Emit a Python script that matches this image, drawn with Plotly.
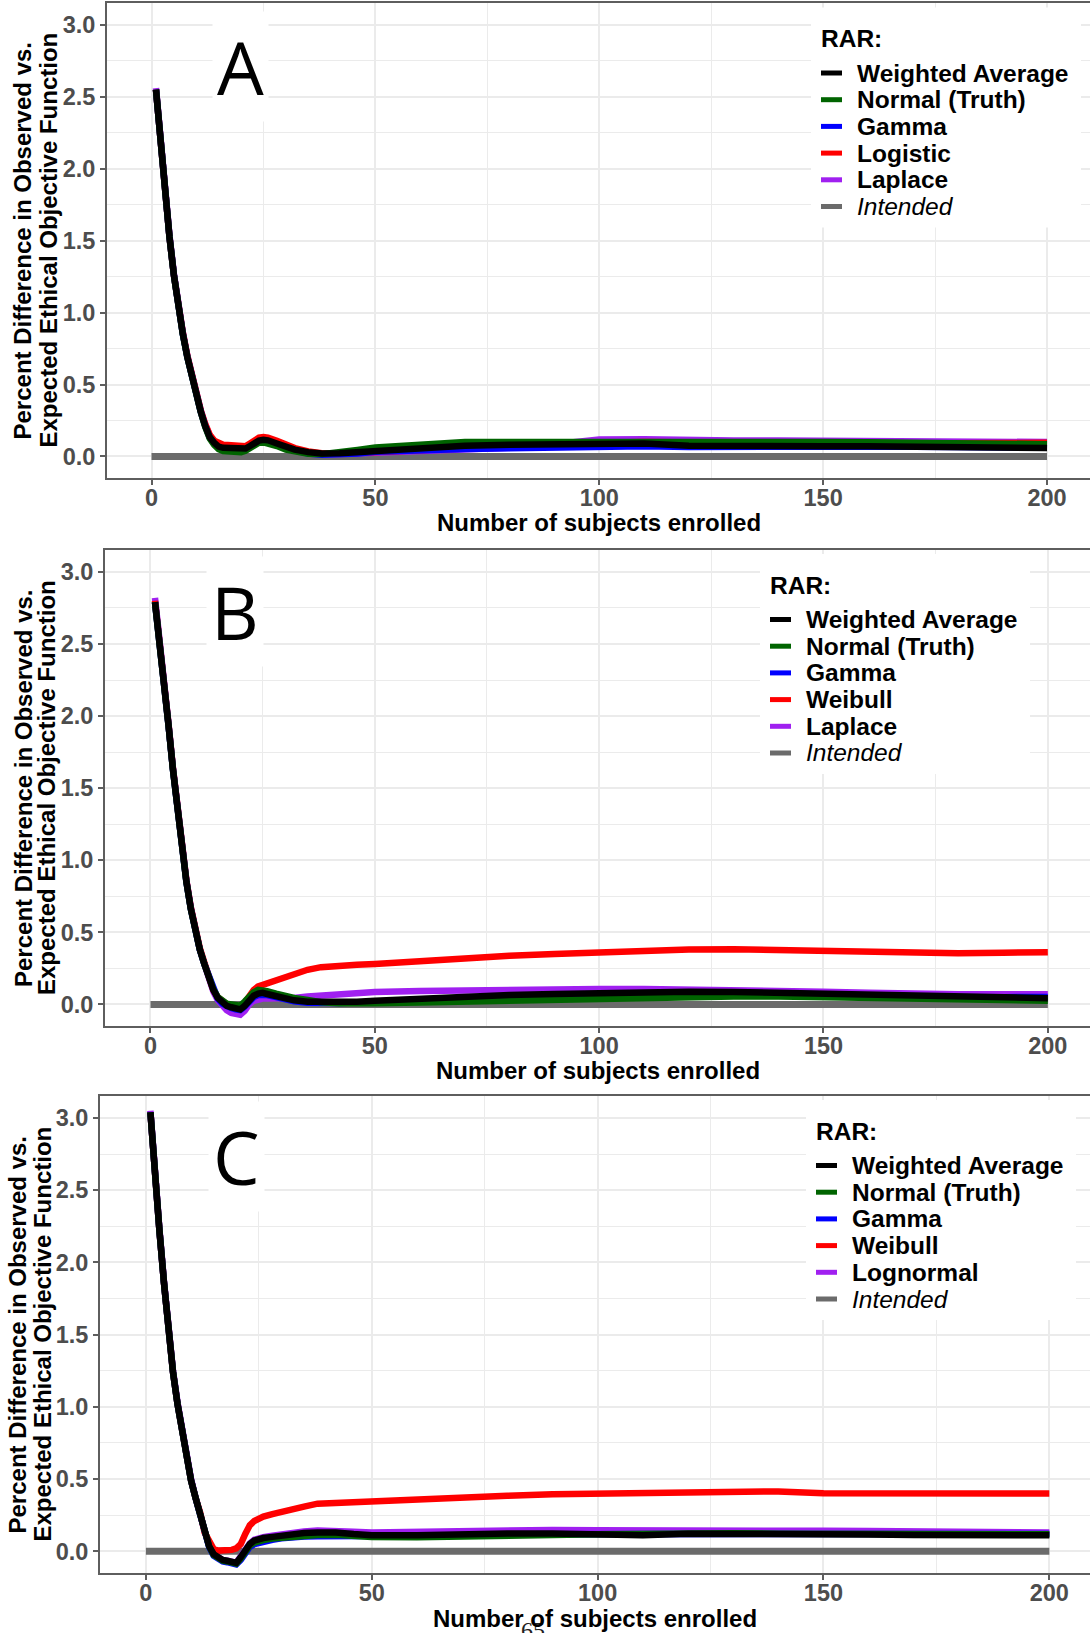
import plotly.graph_objects as go

W, H = 1090, 1633

# Number of subjects enrolled (shared x grid for every curve)
X = [1, 2, 3, 4, 5, 6, 7, 8, 9, 10, 11, 12, 13, 14, 15, 16, 17, 18, 19, 20,
     21, 22, 23, 24, 25, 26, 28, 30, 32, 35, 38, 42, 46, 50,
     60, 70, 80, 90, 100, 110, 120, 130, 140, 150, 160, 170, 180, 190, 200]
INTENDED_X = [0, 200]
INTENDED_Y = [0.0, 0.0]

# ---- Panel A ----
A_WEIGHTED = [2.55, 2.17, 1.85, 1.53, 1.26, 1.02, 0.85, 0.69, 0.55, 0.43,
              0.31, 0.21, 0.135, 0.095, 0.068, 0.06, 0.058, 0.056, 0.052, 0.048,
              0.055, 0.072, 0.095, 0.11, 0.116, 0.112,
              0.09, 0.065, 0.047, 0.03, 0.02, 0.022, 0.03, 0.045,
              0.058, 0.074, 0.082, 0.088, 0.095, 0.09, 0.075, 0.07, 0.07, 0.07,
              0.07, 0.068, 0.066, 0.056, 0.058]
A_NORMAL = [2.55, 2.17, 1.85, 1.53, 1.26, 1.02, 0.85, 0.69, 0.55, 0.43,
            0.31, 0.205, 0.125, 0.08, 0.05, 0.038, 0.035, 0.034, 0.032, 0.03,
            0.04, 0.058, 0.08, 0.095, 0.097, 0.092,
            0.072, 0.048, 0.032, 0.018, 0.016, 0.025, 0.045, 0.062,
            0.085, 0.1, 0.1, 0.1, 0.11, 0.11, 0.1, 0.1, 0.1, 0.1,
            0.098, 0.092, 0.088, 0.085, 0.085]
A_GAMMA = [2.55, 2.17, 1.85, 1.53, 1.26, 1.02, 0.85, 0.69, 0.55, 0.43,
           0.31, 0.21, 0.13, 0.09, 0.06, 0.052, 0.05, 0.048, 0.045, 0.042,
           0.05, 0.068, 0.088, 0.1, 0.105, 0.1,
           0.08, 0.055, 0.038, 0.02, 0.012, 0.012, 0.02, 0.032,
           0.045, 0.052, 0.056, 0.064, 0.07, 0.07, 0.066, 0.068, 0.068, 0.068,
           0.07, 0.068, 0.065, 0.062, 0.06]
A_LOGISTIC = [2.55, 2.17, 1.85, 1.53, 1.26, 1.02, 0.86, 0.70, 0.56, 0.44,
              0.32, 0.225, 0.15, 0.11, 0.09, 0.082, 0.08, 0.078, 0.072, 0.065,
              0.07, 0.09, 0.115, 0.13, 0.135, 0.13,
              0.108, 0.08, 0.058, 0.035, 0.022, 0.02, 0.025, 0.035,
              0.048, 0.062, 0.072, 0.085, 0.095, 0.1, 0.095, 0.09, 0.09, 0.09,
              0.09, 0.09, 0.09, 0.093, 0.095]
A_LAPLACE = [2.56, 2.18, 1.86, 1.54, 1.27, 1.03, 0.86, 0.70, 0.56, 0.44,
             0.32, 0.22, 0.145, 0.105, 0.08, 0.072, 0.07, 0.066, 0.06, 0.055,
             0.062, 0.08, 0.105, 0.118, 0.122, 0.118,
             0.095, 0.068, 0.048, 0.028, 0.016, 0.016, 0.02, 0.026,
             0.036, 0.048, 0.06, 0.085, 0.118, 0.12, 0.112, 0.11, 0.11, 0.11,
             0.1, 0.106, 0.11, 0.1, 0.1]

# ---- Panel B ----
B_WEIGHTED = [2.79, 2.53, 2.24, 1.94, 1.63, 1.36, 1.08, 0.85, 0.66, 0.50,
              0.38, 0.28, 0.19, 0.10, 0.045, 0.01, -0.01, -0.02, -0.03, -0.035,
              -0.01, 0.03, 0.06, 0.075, 0.08, 0.072,
              0.055, 0.04, 0.028, 0.018, 0.015, 0.015, 0.018, 0.025,
              0.042, 0.055, 0.065, 0.072, 0.08, 0.085, 0.088, 0.086, 0.08, 0.072,
              0.062, 0.052, 0.048, 0.045, 0.043]
B_NORMAL = [2.79, 2.53, 2.24, 1.94, 1.63, 1.36, 1.08, 0.85, 0.66, 0.50,
            0.38, 0.28, 0.19, 0.105, 0.05, 0.02, 0.005, 0.0, -0.005, -0.01,
            0.02, 0.06, 0.085, 0.1, 0.1, 0.092,
            0.075, 0.058, 0.045, 0.03, 0.015, 0.008, 0.006, 0.007,
            0.013, 0.02, 0.028, 0.036, 0.044, 0.05, 0.054, 0.055, 0.054, 0.05,
            0.042, 0.035, 0.03, 0.027, 0.026]
B_GAMMA = [2.79, 2.53, 2.24, 1.94, 1.63, 1.36, 1.08, 0.85, 0.66, 0.50,
           0.38, 0.28, 0.19, 0.10, 0.04, 0.005, -0.015, -0.025, -0.035, -0.04,
           -0.015, 0.025, 0.05, 0.065, 0.07, 0.065,
           0.05, 0.035, 0.022, 0.012, 0.008, 0.01, 0.013, 0.018,
           0.03, 0.042, 0.052, 0.06, 0.066, 0.072, 0.078, 0.08, 0.076, 0.068,
           0.06, 0.055, 0.05, 0.05, 0.052]
B_WEIBULL = [2.80, 2.54, 2.25, 1.95, 1.64, 1.37, 1.09, 0.86, 0.67, 0.51,
             0.39, 0.29, 0.19, 0.10, 0.05, 0.02, 0.0, -0.01, -0.02, -0.025,
             0.01, 0.06, 0.1, 0.125, 0.135, 0.14,
             0.165, 0.19, 0.21, 0.24, 0.258, 0.272, 0.275, 0.28,
             0.3, 0.322, 0.337, 0.35, 0.363, 0.372, 0.38, 0.382, 0.376, 0.375,
             0.37, 0.362, 0.355, 0.358, 0.362]
B_LAPLACE = [2.82, 2.55, 2.26, 1.95, 1.64, 1.37, 1.09, 0.86, 0.67, 0.51,
             0.38, 0.28, 0.18, 0.09, 0.03, -0.01, -0.04, -0.06, -0.07, -0.072,
             -0.045, 0.0, 0.025, 0.035, 0.04, 0.04,
             0.038, 0.038, 0.045, 0.055, 0.062, 0.07, 0.078, 0.085,
             0.092, 0.098, 0.1, 0.104, 0.107, 0.107, 0.105, 0.1, 0.095, 0.088,
             0.08, 0.072, 0.07, 0.07, 0.07]

# ---- Panel C ----
C_WEIGHTED = [3.04, 2.59, 2.22, 1.86, 1.50, 1.24, 1.02, 0.83, 0.65, 0.49,
              0.37, 0.26, 0.12, 0.035, -0.02, -0.045, -0.06, -0.065, -0.075, -0.08,
              -0.04, 0.01, 0.05, 0.075, 0.085, 0.092,
              0.1, 0.11, 0.118, 0.127, 0.13, 0.131, 0.12, 0.112,
              0.112, 0.12, 0.123, 0.123, 0.12, 0.112, 0.122, 0.123, 0.123, 0.118,
              0.116, 0.113, 0.111, 0.111, 0.111]
C_NORMAL = [3.04, 2.59, 2.22, 1.86, 1.50, 1.24, 1.02, 0.83, 0.65, 0.49,
            0.37, 0.26, 0.12, 0.035, -0.025, -0.05, -0.065, -0.07, -0.08, -0.085,
            -0.05, 0.0, 0.04, 0.06, 0.07, 0.078,
            0.088, 0.095, 0.1, 0.11, 0.113, 0.115, 0.108, 0.1,
            0.098, 0.1, 0.108, 0.113, 0.118, 0.122, 0.127, 0.125, 0.122, 0.12,
            0.12, 0.118, 0.118, 0.118, 0.118]
C_GAMMA = [3.04, 2.59, 2.22, 1.86, 1.50, 1.24, 1.02, 0.83, 0.65, 0.49,
           0.37, 0.26, 0.12, 0.03, -0.03, -0.055, -0.07, -0.075, -0.085, -0.09,
           -0.06, -0.01, 0.03, 0.05, 0.06, 0.07,
           0.08, 0.09, 0.097, 0.102, 0.104, 0.104, 0.102, 0.1,
           0.105, 0.11, 0.118, 0.12, 0.12, 0.118, 0.12, 0.122, 0.12, 0.12,
           0.12, 0.118, 0.118, 0.118, 0.12]
C_WEIBULL = [3.04, 2.59, 2.22, 1.86, 1.50, 1.24, 1.02, 0.83, 0.65, 0.49,
             0.37, 0.27, 0.13, 0.06, 0.015, 0.005, 0.005, 0.008, 0.01, 0.02,
             0.05, 0.12, 0.18, 0.21, 0.23, 0.24,
             0.258, 0.27, 0.29, 0.31, 0.33, 0.336, 0.337, 0.338,
             0.36, 0.372, 0.385, 0.395, 0.4, 0.402, 0.41, 0.412, 0.415, 0.402,
             0.4, 0.4, 0.4, 0.4, 0.4]
C_LOGNORMAL = [3.05, 2.60, 2.23, 1.87, 1.51, 1.25, 1.03, 0.84, 0.66, 0.50,
               0.37, 0.26, 0.12, 0.035, -0.02, -0.045, -0.06, -0.065, -0.072, -0.078,
               -0.035, 0.015, 0.055, 0.08, 0.09, 0.098,
               0.108, 0.118, 0.128, 0.138, 0.145, 0.145, 0.135, 0.13,
               0.135, 0.145, 0.15, 0.148, 0.146, 0.147, 0.15, 0.148, 0.145, 0.142,
               0.14, 0.137, 0.134, 0.132, 0.13]

X_TICKS = [0, 50, 100, 150, 200]
X_MINOR = [25, 75, 125, 175]
Y_TICKS = [0.0, 0.5, 1.0, 1.5, 2.0, 2.5, 3.0]
Y_MINOR = [0.25, 0.75, 1.25, 1.75, 2.25, 2.75]

COL = {"black": "#000000", "green": "#006400", "blue": "#0000FF",
       "red": "#FF0000", "purple": "#A020F0", "gray": "#6B6B6B"}

# per-panel layout (pixel geometry of the plotting area)
PANELS = [
    dict(letter="A", left=107, top=3, bottom=478, xr=[-9.94, 209.6],
         series=[("Weighted Average", A_WEIGHTED, "black"),
                 ("Normal (Truth)", A_NORMAL, "green"),
                 ("Gamma", A_GAMMA, "blue"),
                 ("Logistic", A_LOGISTIC, "red"),
                 ("Laplace", A_LAPLACE, "purple")],
         letter_xy=(240, 66), leg=(821, 38.5), ytitle_x=(22, 48),
         xtitle_y=523),
    dict(letter="B", left=105, top=550, bottom=1026, xr=[-10.14, 209.4],
         series=[("Weighted Average", B_WEIGHTED, "black"),
                 ("Normal (Truth)", B_NORMAL, "green"),
                 ("Gamma", B_GAMMA, "blue"),
                 ("Weibull", B_WEIBULL, "red"),
                 ("Laplace", B_LAPLACE, "purple")],
         letter_xy=(235, 612), leg=(770, 585), ytitle_x=(23, 46),
         xtitle_y=1070),
    dict(letter="C", left=100, top=1096, bottom=1573, xr=[-10.16, 209.0],
         series=[("Weighted Average", C_WEIGHTED, "black"),
                 ("Normal (Truth)", C_NORMAL, "green"),
                 ("Gamma", C_GAMMA, "blue"),
                 ("Weibull", C_WEIBULL, "red"),
                 ("Lognormal", C_LOGNORMAL, "purple")],
         letter_xy=(236, 1156), leg=(816, 1131), ytitle_x=(17, 42),
         xtitle_y=1618),
]

FONT = "Liberation Sans"
GRID = "#EBEBEB"
AXIS = "#5E5E5E"


def px(x):
    return x / W


def py(y):
    return 1 - y / H


fig = go.Figure()
shapes, annotations = [], []
layout_axes = {}

# page number printed underneath the bottom axis title
annotations.append(dict(text="65", x=px(533), y=py(1630), xref="paper",
                        yref="paper", showarrow=False, xanchor="center",
                        yanchor="middle",
                        font=dict(family="Liberation Serif", size=24,
                                  color="#222222")))

for i, p in enumerate(PANELS, start=1):
    xa = "x" if i == 1 else f"x{i}"
    ya = "y" if i == 1 else f"y{i}"
    # draw order: reference line first, black average last
    order = [4, 3, 2, 1, 0]
    fig.add_trace(go.Scatter(x=INTENDED_X, y=INTENDED_Y, mode="lines",
                             line=dict(color=COL["gray"], width=7),
                             xaxis=xa, yaxis=ya, showlegend=False))
    for k in order:
        name, vals, c = p["series"][k]
        fig.add_trace(go.Scatter(x=X, y=vals, mode="lines", name=name,
                                 line=dict(color=COL[c], width=6.5),
                                 xaxis=xa, yaxis=ya, showlegend=False))

    xkey = "xaxis" if i == 1 else f"xaxis{i}"
    ykey = "yaxis" if i == 1 else f"yaxis{i}"
    layout_axes[xkey] = dict(
        domain=[px(p["left"]), 1.0], range=p["xr"], anchor=ya,
        tickvals=X_TICKS, ticks="outside", ticklen=5, tickwidth=1.5,
        tickcolor=AXIS, showgrid=True, gridcolor=GRID, gridwidth=1.6,
        minor=dict(tickvals=X_MINOR, showgrid=True, gridcolor=GRID,
                   gridwidth=1.0, ticks=""),
        showline=True, mirror=True, linecolor=AXIS, linewidth=1.8,
        zeroline=False, ticklabelstandoff=-7,
        tickfont=dict(family=FONT, size=23.5, color="#4D4D4D", weight="bold"))
    layout_axes[ykey] = dict(
        domain=[py(p["bottom"]), py(p["top"])], range=[-0.15, 3.152],
        anchor=xa, tickvals=Y_TICKS, tickformat=".1f", ticks="outside",
        ticklen=5, tickwidth=1.5, tickcolor=AXIS, showgrid=True,
        gridcolor=GRID, gridwidth=1.6,
        minor=dict(tickvals=Y_MINOR, showgrid=True, gridcolor=GRID,
                   gridwidth=1.0, ticks=""),
        showline=True, mirror=False, linecolor=AXIS, linewidth=1.8,
        zeroline=False,
        tickfont=dict(family=FONT, size=23.5, color="#4D4D4D", weight="bold"))

    # panel letter
    lx, ly = p["letter_xy"]
    annotations.append(dict(text=p["letter"], x=px(lx), y=py(ly),
                            xref="paper", yref="paper", showarrow=False,
                            xanchor="center", yanchor="middle",
                            bgcolor="white", borderpad=4,
                            font=dict(family="Open Sans", size=74,
                                      color="black")))

    # legend block
    gx, gy = p["leg"]
    shapes.append(dict(type="rect", xref="paper", yref="paper",
                       x0=px(gx - 10), x1=px(gx + 260),
                       y0=py(gy - 31), y1=py(gy + 189),
                       fillcolor="white", line=dict(width=0), layer="above"))
    annotations.append(dict(text="<b>RAR:</b>", x=px(gx - 2), y=py(gy),
                            xref="paper", yref="paper", showarrow=False,
                            xanchor="left", yanchor="middle",
                            font=dict(family=FONT, size=24.5, color="black")))
    entries = [(s[0], s[2]) for s in p["series"]] + [("Intended", "gray")]
    for j, (name, c) in enumerate(entries):
        iy = gy + 34.5 + 26.7 * j
        shapes.append(dict(type="line", xref="paper", yref="paper",
                           x0=px(gx), x1=px(gx + 21), y0=py(iy), y1=py(iy),
                           line=dict(color=COL[c], width=5), layer="above"))
        label = f"<i>{name}</i>" if name == "Intended" else f"<b>{name}</b>"
        annotations.append(dict(text=label, x=px(gx + 34), y=py(iy),
                                xref="paper", yref="paper", showarrow=False,
                                xanchor="left", yanchor="middle",
                                font=dict(family=FONT, size=24.5,
                                          color="black")))

    # axis titles
    cy = (p["top"] + p["bottom"]) / 2
    for line, tx in zip(["Percent Difference in Observed vs.",
                         "Expected Ethical Objective Function"],
                        p["ytitle_x"]):
        annotations.append(dict(text=f"<b>{line}</b>", x=px(tx), y=py(cy),
                                xref="paper", yref="paper", showarrow=False,
                                textangle=-90, xanchor="center",
                                yanchor="middle",
                                font=dict(family=FONT, size=24,
                                          color="black")))
    annotations.append(dict(text="<b>Number of subjects enrolled</b>",
                            x=px((p["left"] + W) / 2), y=py(p["xtitle_y"]),
                            xref="paper", yref="paper", showarrow=False,
                            xanchor="center", yanchor="middle",
                            font=dict(family=FONT, size=24, color="black")))

fig.update_layout(
    width=W, height=H, margin=dict(l=0, r=0, t=0, b=0),
    paper_bgcolor="white", plot_bgcolor="white", showlegend=False,
    shapes=shapes, annotations=annotations, **layout_axes)

fig.write_html("out.html")
